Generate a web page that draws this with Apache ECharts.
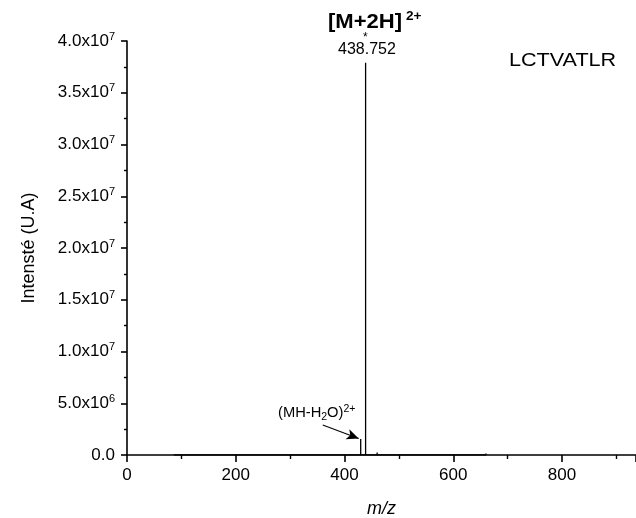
<!DOCTYPE html>
<html>
<head>
<meta charset="utf-8">
<script src="https://cdn.jsdelivr.net/npm/echarts@6/dist/echarts.min.js"></script>
<style>
  html, body { margin: 0; padding: 0; background: #fff; }
  #chart { width: 636px; height: 518px; }
</style>
</head>
<body>
<div id="chart"></div>
<script>
// spectre de masse — LCTVATLR
const peakMz = [86, 217, 429.75, 438.752, 460, 660];
const peakIntensity = [1.5e5, 1.5e5, 1.55e6, 3.79e7, 2.5e5, 1.5e5];
const xTicks = [0, 200, 400, 600, 800];
const yTicks = [0, 5e6, 1e7, 1.5e7, 2e7, 2.5e7, 3e7, 3.5e7, 4e7];

// sticks: each peak goes 0 -> intensity -> 0
const stickData = [];
peakMz.forEach((mz, i) => {
  stickData.push([mz, 0], [mz, peakIntensity[i]], [mz, 0]);
});

const FONT = '"Liberation Sans", Arial, sans-serif';

function yLabel(v) {
  if (v === 0) return '0.0';
  const exp = Math.floor(Math.log10(v) + 1e-9);
  const mant = (v / Math.pow(10, exp)).toFixed(1);
  return mant + 'x10{sup|' + exp + '}';
}

const chart = echarts.init(document.getElementById('chart'));
chart.setOption({
  backgroundColor: '#fff',
  animation: false,
  grid: { left: 127, right: 0, top: 41, bottom: 63, containLabel: false, outerBoundsMode: 'none' },
  xAxis: {
    type: 'value',
    min: 0, max: 936, interval: 200,
    name: 'm/z', nameLocation: 'middle', nameGap: 45,
    nameTextStyle: { fontFamily: FONT, fontSize: 18, fontStyle: 'italic', color: '#000' },
    axisLine: { lineStyle: { color: '#000', width: 1.6 } },
    axisTick: { inside: false, length: 7, lineStyle: { color: '#000', width: 1.6 } },
    minorTick: { show: true, splitNumber: 2, length: 4, lineStyle: { color: '#000', width: 1.4 } },
    axisLabel: {
      fontFamily: FONT, fontSize: 17, color: '#000', margin: 12,
      formatter: v => xTicks.includes(v) ? String(v) : ''
    },
    splitLine: { show: false }
  },
  yAxis: {
    type: 'value',
    min: 0, max: 4e7, interval: 5e6,
    name: 'Intensté (U.A)', nameLocation: 'middle', nameGap: 89,
    nameTextStyle: { fontFamily: FONT, fontSize: 18, color: '#000' },
    axisLine: { show: true, lineStyle: { color: '#000', width: 1.6 } },
    axisTick: { show: true, length: 6, lineStyle: { color: '#000', width: 1.6 } },
    minorTick: { show: true, splitNumber: 2, length: 3, lineStyle: { color: '#000', width: 1.4 } },
    axisLabel: {
      fontFamily: FONT, fontSize: 17, color: '#000', margin: 12,
      formatter: v => yTicks.includes(v) ? yLabel(v) : '',
      rich: {
        sup: { fontFamily: FONT, fontSize: 11, color: '#000', verticalAlign: 'top', padding: [0, 0, 9, 0] }
      }
    },
    splitLine: { show: false }
  },
  series: [{
    type: 'line',
    data: stickData,
    symbol: 'none',
    lineStyle: { color: '#000', width: 1.3 },
    markLine: {
      silent: true,
      symbol: ['none', 'arrow'],
      symbolSize: [8, 12],
      lineStyle: { color: '#000', width: 1.1, type: 'solid' },
      label: { show: false },
      data: [[{ coord: [360, 2.9e6] }, { coord: [426, 1.6e6] }]]
    }
  }],
  graphic: [
    {
      type: 'text', left: 328, top: 10, scaleX: 1.05,
      style: {
        text: '{b|[M+2H]}{s| 2+}',
        rich: {
          b: { fontFamily: FONT, fontSize: 21, fontWeight: 'bold', fill: '#000' },
          s: { fontFamily: FONT, fontSize: 13, fontWeight: 'bold', fill: '#000', padding: [0, 0, 11, 0] }
        }
      }
    },
    { type: 'text', left: 363, top: 32, style: { text: '*', fontFamily: FONT, fontSize: 12, fill: '#000' } },
    { type: 'text', left: 338, top: 42, style: { text: '438.752', fontFamily: FONT, fontSize: 16, fill: '#000' } },
    { type: 'text', left: 509, top: 52, scaleX: 1.2, style: { text: 'LCTVATLR', fontFamily: FONT, fontSize: 18, fill: '#000' } },
    {
      type: 'text', left: 278, top: 404, scaleX: 1.05,
      style: {
        text: '(MH-H{sub|2}O){sup|2+}',
        fontFamily: FONT, fontSize: 14, fill: '#000',
        rich: {
          sub: { fontFamily: FONT, fontSize: 10, fill: '#000', padding: [8, 0, 0, 0] },
          sup: { fontFamily: FONT, fontSize: 10, fill: '#000', padding: [0, 0, 8, 0] }
        }
      }
    }
  ]
});
</script>
</body>
</html>
